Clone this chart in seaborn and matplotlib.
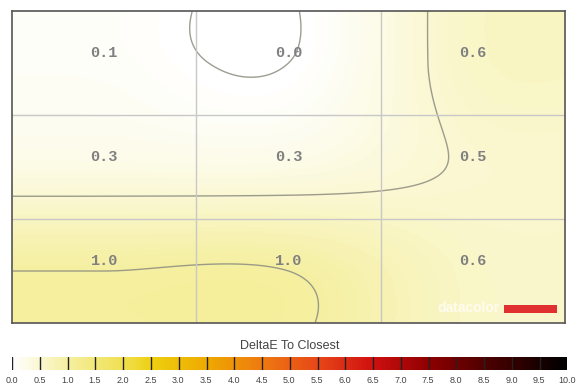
import matplotlib
matplotlib.use("Agg")

import matplotlib.pyplot as plt
import numpy as np
import pandas as pd
import seaborn as sns
from matplotlib.colors import LinearSegmentedColormap
from matplotlib.patches import Rectangle

# measured deltaE per panel region (rows top -> bottom, columns left -> right)
row_top = [0.1, 0.0, 0.6]
row_middle = [0.3, 0.3, 0.5]
row_bottom = [1.0, 1.0, 0.6]
contour_levels = [0.0, 0.48, 1.0]
cbar_ticks = [i * 0.5 for i in range(21)]
cbar_title = "DeltaE To Closest"

sns.set_theme(style="white")
plt.rcParams["font.family"] = ["Liberation Sans", "DejaVu Sans"]

cmap = LinearSegmentedColormap.from_list("deltae", [
    (0.00, "#ffffff"), (0.10, "#f5efa0"), (0.20, "#f0e050"),
    (0.25, "#eed010"), (0.35, "#eeaa00"), (0.45, "#ee7a10"),
    (0.55, "#e84818"), (0.65, "#d01010"), (0.75, "#900000"),
    (0.85, "#500000"), (1.00, "#000000"),
])

values = np.array([row_top, row_middle, row_bottom])
n_rows, n_cols = values.shape
res = 100  # samples per cell


def catmull_rom(n_nodes, n_samples):
    """Weight matrix for bicubic-style interpolation with edge replication."""
    t = (np.arange(n_nodes * n_samples) + 0.5) / n_samples - 0.5
    seg = np.floor(t).astype(int)
    u = t - seg
    w = np.stack([(-u**3 + 2 * u**2 - u) / 2,
                  (3 * u**3 - 5 * u**2 + 2) / 2,
                  (-3 * u**3 + 4 * u**2 + u) / 2,
                  (u**3 - u**2) / 2], axis=1)
    out = np.zeros((len(t), n_nodes))
    for k, off in enumerate([-1, 0, 1, 2]):
        idx = np.clip(seg + off, 0, n_nodes - 1)
        np.add.at(out, (np.arange(len(t)), idx), w[:, k])
    return out


surface = catmull_rom(n_rows, res) @ values @ catmull_rom(n_cols, res).T
surface_df = pd.DataFrame(surface)

fig = plt.figure(figsize=(5.8, 3.92), dpi=100)
ax = fig.add_axes([12 / 580, 69 / 392, 553 / 580, 312 / 392])

sns.heatmap(surface_df, cmap=cmap, vmin=0, vmax=10, cbar=False,
            xticklabels=False, yticklabels=False, rasterized=True, ax=ax)

gx = np.arange(n_cols * res) + 0.5
gy = np.arange(n_rows * res) + 0.5
ax.contour(gx, gy, surface, levels=contour_levels,
           colors="#8c8c80", linewidths=1.0, alpha=0.85)

for k in range(1, n_cols):
    ax.axvline(k * res, color="#c8c8c8", lw=1)
for k in range(1, n_rows):
    ax.axhline(k * res, color="#c8c8c8", lw=1)

for i in range(n_rows):
    for j in range(n_cols):
        ax.text((j + 0.5) * res, (i + 0.4) * res, f"{values[i, j]:.1f}",
                ha="center", va="center", fontsize=11, fontweight="bold",
                family="Liberation Mono", color="#808080")

for side in ax.spines.values():
    side.set_visible(True)
    side.set_color("#555555")
    side.set_linewidth(1.2)

# watermark
ax.text(0.882, 0.048, "datacolor", transform=ax.transAxes, ha="right",
        va="center", fontsize=10, fontweight="bold", color="white", alpha=0.7)
ax.add_patch(Rectangle((0.889, 0.032), 0.096, 0.026, transform=ax.transAxes,
                       color="#e03030", lw=0))

# colour bar
cax = fig.add_axes([11.7 / 580, 22 / 392, 555.3 / 580, 13 / 392])
gradient = pd.DataFrame([np.linspace(0, 10, 600)])
sns.heatmap(gradient, cmap=cmap, vmin=0, vmax=10, cbar=False,
            xticklabels=False, yticklabels=False, rasterized=True, ax=cax)
cax.set_xlim(0, 600)
for t in cbar_ticks[:-1]:
    cax.axvline(t / 10 * 600 + 0.5, color="#222222", lw=1)
cax.set_xticks([t / 10 * 600 for t in cbar_ticks])
cax.set_xticklabels([f"{t:.1f}" for t in cbar_ticks], fontsize=6.5, color="#444444")
cax.tick_params(axis="x", length=0, pad=4)
cax.set_title(cbar_title, fontsize=9, color="#444444", pad=6)
for side in cax.spines.values():
    side.set_visible(False)

fig.savefig("out.png", dpi=100)
